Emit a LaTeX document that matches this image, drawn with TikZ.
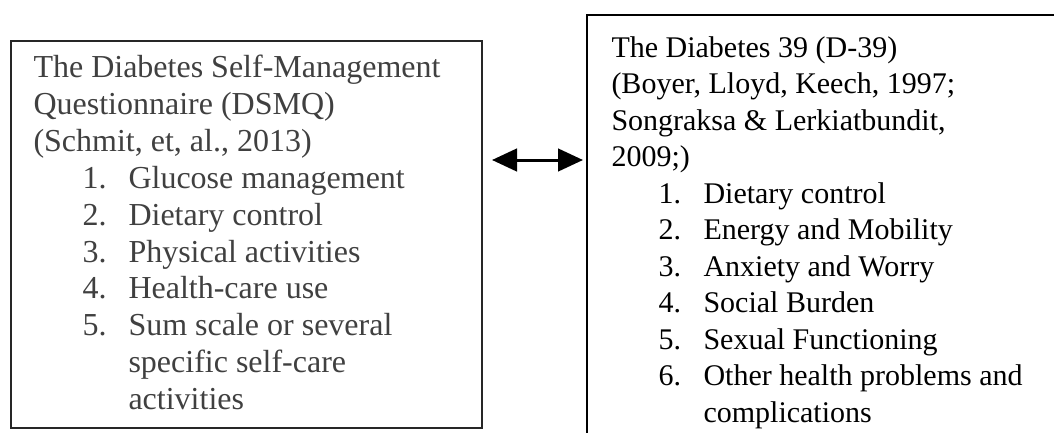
\documentclass[tikz,border=0pt]{standalone}
\usepackage{fontspec}
\setmainfont{Liberation Serif}
\usetikzlibrary{shapes, arrows.meta, positioning}
\tikzset{
  boxtext/.style={inner sep=0pt, anchor=base west, align=justify, text width=170pt, font=\fontsize{12}{14.6}\selectfont},
  dsmqtext/.style={boxtext, text=black!75, font=\fontsize{12.8}{14.72}\selectfont},
  scalebox/.style={draw, rectangle, line width=1pt, inner sep=0pt, outer sep=0pt},
  linkarrow/.style={{Triangle[length=10pt,width=9pt]}-{Triangle[length=10pt,width=9pt]}, line width=1.2pt, shorten <=4pt, shorten >=1.6pt}
}
\begin{document}
\begin{tikzpicture}[x=0.4pt, y=-0.4pt]
  \useasboundingbox (0,0) rectangle (1054,433);
  \clip (0,0) rectangle (1054,433);
  \node (dsmq) at (246.5,234.5) [scalebox, draw=black!85, minimum width=188.4pt, minimum height=154.8pt] {};
  \node (d39) at (833.5,237.5) [scalebox, minimum width=197.2pt, minimum height=178pt] {};

  \node (dsmqtitle) at (33,78) [dsmqtext] {The Diabetes Self-Management\\Questionnaire (DSMQ)\\(Schmit, et, al., 2013)};
  \foreach \t [count=\i] in {Glucose management, Dietary control, Physical activities, Health-care use, Sum scale or several\\specific self-care\\activities} {
    \node (dsmqnum\i) at (82,{78+36.8*(\i+2)}) [dsmqtext, text width=20pt] {\i.};
    \node (dsmqitem\i) at (128,{78+36.8*(\i+2)}) [dsmqtext, text width=140pt] {\t};
  }

  \node (d39title) at (611,57) [boxtext] {The Diabetes 39 (D-39)\\(Boyer, Lloyd, Keech, 1997;\\Songraksa \& Lerkiatbundit,\\2009;)};
  \foreach \t [count=\i] in {Dietary control, Energy and Mobility, Anxiety and Worry, Social Burden, Sexual Functioning, Other health problems and\\complications} {
    \node (d39num\i) at (658,{57+36.5*(\i+3)}) [boxtext, text width=20pt] {\i.};
    \node (d39item\i) at (703,{57+36.5*(\i+3)}) [boxtext, text width=140pt] {\t};
  }

  \coordinate (link) at (0,160);
  \draw[linkarrow] (dsmq.east |- link) -- (d39.west |- link);
\end{tikzpicture}
\end{document}
